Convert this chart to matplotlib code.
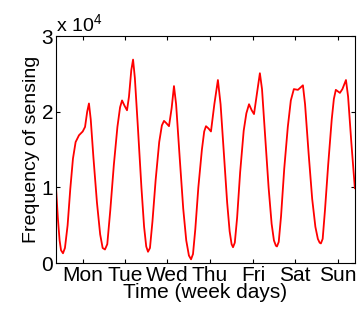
import numpy as np
import matplotlib
matplotlib.use('Agg')
import matplotlib.pyplot as plt

plt.rcParams['font.family'] = ['Liberation Sans', 'DejaVu Sans']
plt.rcParams['mathtext.fontset'] = 'custom'
plt.rcParams['mathtext.rm'] = 'Liberation Sans'

# hours since start of week, sensing frequency (x 10^4)
hours = [0, 1, 2, 2.8, 3.9, 5, 6.5, 8, 9.5, 11, 12.9, 15, 16.3, 17.5, 18.5, 19.5, 21, 23, 24.8, 26.2, 27.5,
         28.8, 30.5, 32.5, 34.5, 36, 37.1, 38.5, 39.9, 41, 42.3, 43.3, 44.3, 46, 48, 49.5, 50.7, 51.7,
         52.8, 54.2, 56, 58, 59.5, 60.7, 62, 63.5, 65, 66.3, 67.5, 69.5, 71.5, 73.2, 74.7, 75.9,
         77, 78.3, 80, 82, 83.3, 84.3, 85.7, 87.1, 89, 91, 92.5, 94.5, 96.2, 97.6, 98.7, 99.5,
         100.5, 101.8, 103.5, 105.5, 107, 108.5, 110, 111.3, 113, 114.6, 115.8, 117.5, 119.5, 121.2, 122.5, 123.6, 124.2,
         125.2, 126.5, 128.3, 130.3, 132, 133.7, 136, 138.8, 140, 142, 144, 145.8, 147.2, 148.2, 148.9,
         149.9, 151.2, 153, 155, 156.2, 157.3, 159.6, 161, 163, 164.2, 166, 168]
freq = [0.99, 0.6, 0.3, 0.17, 0.13, 0.2, 0.5, 0.98, 1.38, 1.6, 1.69, 1.74, 1.8, 2.0, 2.11, 1.9, 1.4, 0.8, 0.38, 0.2, 0.18,
        0.25, 0.7, 1.3, 1.8, 2.06, 2.15, 2.08, 2.02, 2.2, 2.55, 2.69, 2.45, 1.8, 1.0, 0.48, 0.22, 0.15,
        0.2, 0.55, 1.1, 1.6, 1.82, 1.88, 1.85, 1.81, 2.05, 2.34, 2.1, 1.4, 0.72, 0.3, 0.1, 0.05,
        0.12, 0.45, 1.0, 1.5, 1.74, 1.81, 1.78, 1.74, 2.1, 2.42, 2.1, 1.4, 0.8, 0.42, 0.25, 0.21,
        0.27, 0.6, 1.2, 1.75, 1.98, 2.1, 2.02, 1.97, 2.25, 2.51, 2.3, 1.7, 1.0, 0.52, 0.3, 0.23, 0.22,
        0.28, 0.62, 1.25, 1.8, 2.15, 2.3, 2.29, 2.35, 2.1, 1.45, 0.85, 0.48, 0.32, 0.27, 0.26,
        0.32, 0.7, 1.3, 1.9, 2.17, 2.29, 2.25, 2.3, 2.42, 2.2, 1.6, 0.99]
freq = np.array(freq) * 1e4

day_ticks = [15.2, 38.8, 62.4, 86.5, 110.7, 134.3, 158.5]
day_labels = ['Mon', 'Tue', 'Wed', 'Thu', 'Fri', 'Sat', 'Sun']

fig = plt.figure(figsize=(3.57, 3.17), dpi=100)
ax = fig.add_axes([0.157, 0.170, 0.837, 0.716])
ax.plot(hours, freq, color='red', linewidth=1.3)

ax.set_xlim(0, 168)
ax.set_ylim(0, 3e4)
ax.set_xticks(day_ticks)
ax.set_xticklabels(day_labels)
ax.set_yticks([0, 1e4, 2e4, 3e4])
ax.set_yticklabels(['0', '1', '2', '3'])
ax.tick_params(direction='in', length=3, labelsize=15, top=True, right=True, pad=2)
for s in ax.spines.values():
    s.set_linewidth(0.8)

ax.set_xlabel('Time (week days)', fontsize=15, labelpad=-1)
ax.set_ylabel('Frequency of sensing', fontsize=14, labelpad=1)
ax.text(0.0, 1.0, r'x 10$^4$', transform=ax.transAxes, fontsize=14, va='bottom')

fig.savefig('out.png', dpi=100)
